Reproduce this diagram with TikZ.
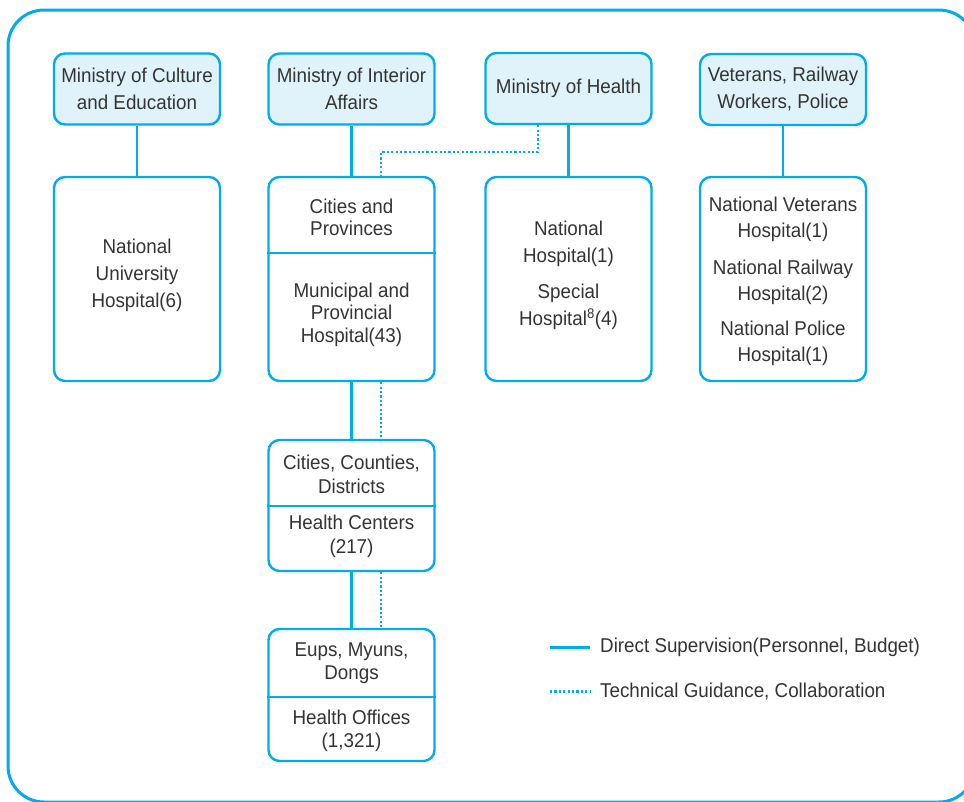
\documentclass[tikz,border=0pt]{standalone}
\usepackage{fontspec}
\setmainfont{Liberation Sans}[FakeStretch=0.94]
\usetikzlibrary{calc}
\definecolor{frameblue}{RGB}{0,172,234}
\definecolor{headfill}{RGB}{225,243,250}
\definecolor{inkgrey}{RGB}{51,51,51}
\begin{document}
\begin{tikzpicture}[x=1pt,y=-1pt,
  txt/.style={text=inkgrey, align=center, inner sep=0pt,
    font=\fontsize{20}{#1}\selectfont},
  txt/.default=26,
  box/.style={draw=frameblue, line width=2.4pt, rounded corners=11pt, inner sep=0pt},
  head/.style={box, txt=27, fill=headfill, minimum width=166pt, minimum height=71pt},
  unit/.style={box, minimum width=166pt, minimum height=#1},
  supervise/.style={draw=frameblue, line width=2.4pt},
  guide/.style={draw=frameblue, line width=2.3pt, dash pattern=on 2.2pt off 2.2pt},
]
\useasboundingbox (0,0) rectangle (964,801);

% outer frame
\draw[frameblue, line width=3pt, rounded corners=36pt] (8,10) rectangle (975,802);

% ministries
\node[head] (mce) at (137,89)   {Ministry of Culture\\and Education};
\node[head] (mia) at (351.5,89) {Ministry of Interior\\Affairs};
\node[head] (moh) at (568.5,88.5) {Ministry of Health};
\node[head] (vrp) at (783,89.5)   {Veterans, Railway\\Workers, Police};

% first level units
\node[unit=204pt] (nuh) at (137,279)   {};
\node[unit=204pt] (cp)  at (351.5,279) {};
\node[unit=204pt] (nh)  at (568.5,279) {};
\node[unit=204pt] (vh)  at (783,279)   {};

% lower levels of local administration
\node[unit=131pt] (ccd) at (351.5,505.5) {};
\node[unit=132pt] (emd) at (351.5,695)   {};

% dividers inside split boxes
\coordinate (cpcut)  at (0,253);
\coordinate (ccdcut) at (0,506);
\coordinate (emdcut) at (0,697);
\draw[supervise] (cp.west |- cpcut) -- (cp.east |- cpcut);
\draw[supervise] (ccd.west |- ccdcut) -- (ccd.east |- ccdcut);
\draw[supervise] (emd.west |- emdcut) -- (emd.east |- emdcut);

% box texts
\node[txt=27] (nuhT) at (137,275) {National\\University\\Hospital(6)};
\node[txt=22] (cpT)  at (351.5,217.5) {Cities and\\Provinces};
\node[txt=22.5] (mpT) at (351.5,314.5) {Municipal and\\Provincial\\Hospital(43)};
\node[txt=27] (nhT)  at (568.5,244) {National\\Hospital(1)};
\node[txt=27] (shT)  at (568.5,307) {Special\\Hospital\textsuperscript{8}(4)};
\node[txt=26] (vhT1) at (783,219.5) {National Veterans\\Hospital(1)};
\node[txt=26] (vhT2) at (783,282)   {National Railway\\Hospital(2)};
\node[txt=26] (vhT3) at (783,343)   {National Police\\Hospital(1)};
\node[txt=24] (ccdT) at (351.5,474.5) {Cities, Counties,\\Districts};
\node[txt=24] (hcT)  at (351.5,536) {Health Centers\\(217)};
\node[txt=23] (emdT) at (351.5,663.5) {Eups, Myuns,\\Dongs};
\node[txt=23] (hoT)  at (351.5,730.5) {Health Offices\\(1,321)};

% direct supervision
\draw[supervise] (mce.south) -- (nuh.north);
\draw[supervise] (mia.south) -- (cp.north);
\draw[supervise] (moh.south) -- (nh.north);
\draw[supervise] (vrp.south) -- (vh.north);
\draw[supervise] (cp.south) -- (ccd.north);
\draw[supervise] (ccd.south) -- (emd.north);

% technical guidance
\draw[guide] ([xshift=-30.5pt]moh.south) -- ++(0,27) -| ([xshift=29.5pt]cp.north);
\draw[guide] ([xshift=29.5pt]cp.south) -- ([xshift=29.5pt]ccd.north);
\draw[guide] ([xshift=29.5pt]ccd.south) -- ([xshift=29.5pt]emd.north);

% legend
\node[txt, anchor=west] (lg1) at (600,647.5) {Direct Supervision(Personnel, Budget)};
\node[txt, anchor=west] (lg2) at (600,691.5) {Technical Guidance, Collaboration};
\draw[supervise] ([xshift=-50pt]lg1.west) -- ([xshift=-10pt]lg1.west);
\draw[guide] ([xshift=-50pt]lg2.west) -- ([xshift=-10pt]lg2.west);
\end{tikzpicture}
\end{document}
